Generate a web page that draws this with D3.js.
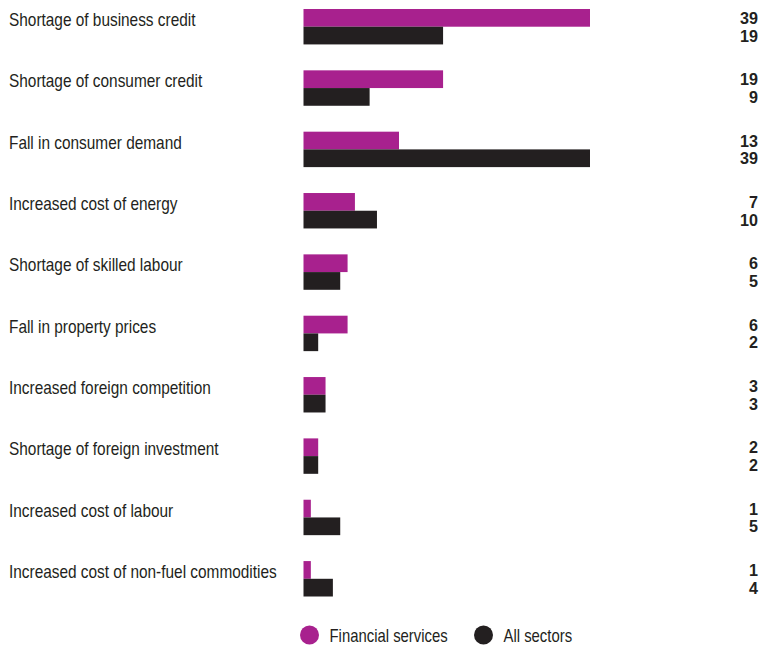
<!DOCTYPE html>
<html>
<head>
<meta charset="utf-8">
<script src="https://cdn.jsdelivr.net/npm/d3@7"></script>
<style>
  html, body { margin: 0; padding: 0; background: #fff; }
  svg text { font-family: "Liberation Sans", Arial, sans-serif; fill: #231F20; }
</style>
</head>
<body>
<svg id="chart" width="770" height="646"></svg>
<script>
// Obstacles to growth: share of respondents, financial services vs all sectors
const categories = [
  "Shortage of business credit",
  "Shortage of consumer credit",
  "Fall in consumer demand",
  "Increased cost of energy",
  "Shortage of skilled labour",
  "Fall in property prices",
  "Increased foreign competition",
  "Shortage of foreign investment",
  "Increased cost of labour",
  "Increased cost of non-fuel commodities"
];
const financialServices = [39, 19, 13, 7, 6, 6, 3, 2, 1, 1];
const allSectors        = [19, 9, 39, 10, 5, 2, 3, 2, 5, 4];
const seriesNames = ["Financial services", "All sectors"];
const colors = ["#A8218E", "#231F20"];

// condensed look for the text labels
const narrow = 0.88;

const svg = d3.select("#chart");

const x = d3.scaleLinear().domain([0, 39]).range([303.5, 590]);
const y = d3.scaleBand().domain(categories).range([9, 596.5]).paddingInner(0.4225).paddingOuter(0);
const sub = d3.scaleBand().domain([0, 1]).range([0, y.bandwidth()]);

const groups = svg.selectAll("g.cat")
  .data(categories.map((c, i) => ({ c, vals: [financialServices[i], allSectors[i]] })))
  .join("g")
  .attr("class", "cat")
  .attr("transform", d => `translate(0,${y(d.c)})`);

groups.append("text")
  .attr("transform", `translate(9,${sub(0) + sub.bandwidth() / 2 + 2}) scale(${narrow},1)`)
  .attr("dy", "0.35em")
  .attr("font-size", 17.5)
  .text(d => d.c);

groups.selectAll("rect")
  .data(d => d.vals)
  .join("rect")
  .attr("x", x(0))
  .attr("y", (v, i) => sub(i))
  .attr("width", v => x(v) - x(0))
  .attr("height", sub.bandwidth())
  .attr("fill", (v, i) => colors[i]);

groups.selectAll("text.val")
  .data(d => d.vals)
  .join("text")
  .attr("class", "val")
  .attr("transform", (v, i) => `translate(758,${sub(i) + sub.bandwidth() / 2}) scale(0.95,1)`)
  .attr("dy", "0.36em")
  .attr("text-anchor", "end")
  .attr("font-size", 17)
  .attr("font-weight", "bold")
  .text(v => v);

// Legend
const legendX = [309.5, 483.5];
const legend = svg.selectAll("g.legend")
  .data(seriesNames)
  .join("g")
  .attr("class", "legend")
  .attr("transform", (d, i) => `translate(${legendX[i]},635)`);
legend.append("circle").attr("r", 9.5).attr("fill", (d, i) => colors[i]);
legend.append("text")
  .attr("transform", `translate(20,1) scale(0.85,1)`)
  .attr("dy", "0.35em")
  .attr("font-size", 17.5)
  .text(d => d);
</script>
</body>
</html>
